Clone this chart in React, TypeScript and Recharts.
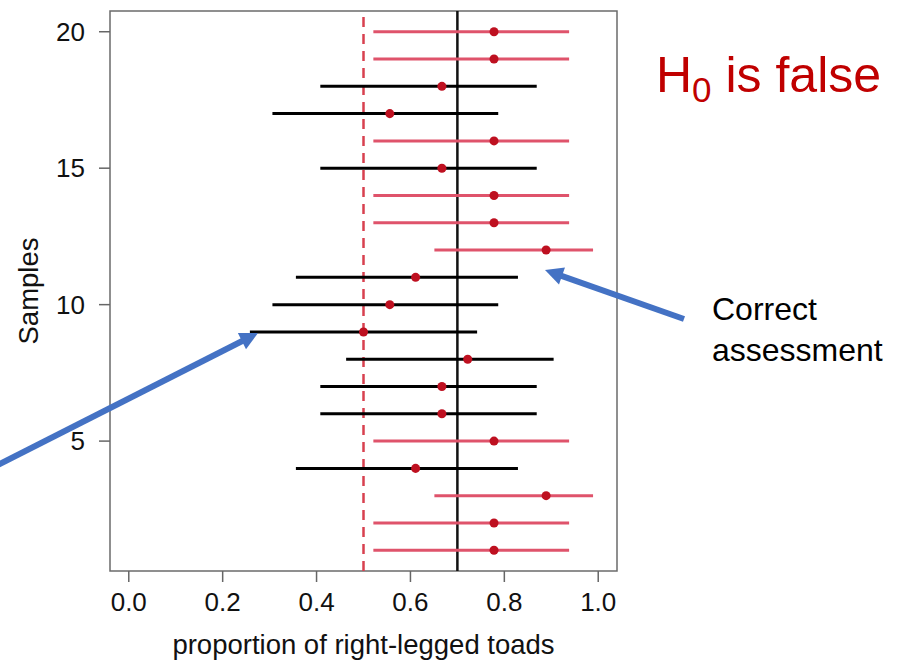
import {
  ScatterChart,
  Scatter,
  XAxis,
  YAxis,
  ZAxis,
  ErrorBar,
  ReferenceLine,
  ReferenceArea,
} from "recharts";

const FONT = '"Liberation Sans", Arial, Helvetica, sans-serif';

// one interval per sample
const SAMPLES = [1, 2, 3, 4, 5, 6, 7, 8, 9, 10, 11, 12, 13, 14, 15, 16, 17, 18, 19, 20];
const ESTIMATE = [
  0.778, 0.778, 0.889, 0.611, 0.778, 0.667, 0.667, 0.722, 0.5, 0.556,
  0.611, 0.889, 0.778, 0.778, 0.667, 0.778, 0.556, 0.667, 0.778, 0.778,
];
const LOWER = [
  0.521, 0.521, 0.651, 0.356, 0.521, 0.408, 0.408, 0.463, 0.258, 0.306,
  0.356, 0.651, 0.521, 0.521, 0.408, 0.521, 0.306, 0.408, 0.521, 0.521,
];
const UPPER = [
  0.938, 0.938, 0.989, 0.829, 0.938, 0.869, 0.869, 0.905, 0.742, 0.787,
  0.829, 0.989, 0.938, 0.938, 0.869, 0.938, 0.787, 0.869, 0.938, 0.938,
];
const NULL_VALUE = 0.5;
const TRUE_VALUE = 0.7;

const X_TICKS = [0, 0.2, 0.4, 0.6, 0.8, 1.0];
const Y_TICKS = [5, 10, 15, 20];
const X_DOMAIN = [-0.04, 1.04];
const Y_DOMAIN = [0.24, 20.76];

const RED_LINE = "#DF536B";
const DASH_RED = "#D8404F";
const POINT = "#BE1020";
const BLUE = "#4472C4";

const rows = SAMPLES.map((s, i) => ({
  sample: s,
  est: ESTIMATE[i],
  err: [ESTIMATE[i] - LOWER[i], UPPER[i] - ESTIMATE[i]],
  rejects: LOWER[i] > NULL_VALUE,
}));
const correct = rows.filter((r) => r.rejects);
const missed = rows.filter((r) => !r.rejects);

// arrow shaft stops short of the tip so the head stays sharp
function Arrow({ x1, y1, x2, y2 }: { x1: number; y1: number; x2: number; y2: number }) {
  const len = Math.hypot(x2 - x1, y2 - y1);
  const ux = (x2 - x1) / len;
  const uy = (y2 - y1) / len;
  const head = 18;
  const half = 9;
  const bx = x2 - ux * head;
  const by = y2 - uy * head;
  const pts = `${x2},${y2} ${bx - uy * half},${by + ux * half} ${bx + uy * half},${by - ux * half}`;
  return (
    <g>
      <line x1={x1} y1={y1} x2={bx + ux * 2} y2={by + uy * 2} stroke={BLUE} strokeWidth={6} />
      <polygon points={pts} fill={BLUE} />
    </g>
  );
}

export default function App() {
  return (
    <div style={{ position: "absolute", left: 0, top: 0, width: 898, height: 663, background: "#fff", fontFamily: FONT }}>
      <ScatterChart
        width={898}
        height={663}
        margin={{ top: 11, right: 281, bottom: 2, left: 0 }}
        style={{ fontFamily: FONT }}
      >
        <XAxis
          type="number"
          dataKey="est"
          domain={X_DOMAIN}
          ticks={X_TICKS}
          allowDataOverflow
          tickFormatter={(v: number) => v.toFixed(1)}
          axisLine={false}
          tickLine={{ stroke: "#666", strokeWidth: 1.5 }}
          tickSize={11}
          tickMargin={11}
          height={90}
          tick={{ fill: "#111", fontSize: 26 }}
          label={{
            value: "proportion of right-legged toads",
            position: "insideBottom",
            offset: 7,
            fill: "#111",
            fontSize: 27.5,
          }}
        />
        <YAxis
          type="number"
          dataKey="sample"
          domain={Y_DOMAIN}
          ticks={Y_TICKS}
          allowDataOverflow
          axisLine={false}
          tickLine={{ stroke: "#666", strokeWidth: 1.5 }}
          tickSize={11}
          tickMargin={14}
          width={110}
          tick={{ fill: "#111", fontSize: 26 }}
          label={{
            value: "Samples",
            angle: -90,
            position: "insideLeft",
            offset: 28,
            fill: "#111",
            fontSize: 27.5,
            style: { textAnchor: "middle" },
          }}
        />
        <ZAxis range={[85, 85]} />
        <ReferenceArea
          x1={X_DOMAIN[0]}
          x2={X_DOMAIN[1]}
          y1={Y_DOMAIN[0]}
          y2={Y_DOMAIN[1]}
          fill="none"
          fillOpacity={0}
          stroke="#6b6b6b"
          strokeWidth={1.5}
          ifOverflow="visible"
        />
        <ReferenceLine x={TRUE_VALUE} stroke="#111" strokeWidth={2.5} />
        <ReferenceLine x={NULL_VALUE} stroke={DASH_RED} strokeWidth={2.5} strokeDasharray="10 7" />
        <Scatter data={missed} fill={POINT} isAnimationActive={false}>
          <ErrorBar dataKey="err" direction="x" width={0} stroke="#000" strokeWidth={3} isAnimationActive={false} />
        </Scatter>
        <Scatter data={correct} fill={POINT} isAnimationActive={false}>
          <ErrorBar dataKey="err" direction="x" width={0} stroke={RED_LINE} strokeWidth={3} isAnimationActive={false} />
        </Scatter>
      </ScatterChart>
      <svg
        width={898}
        height={663}
        style={{ position: "absolute", left: 0, top: 0, pointerEvents: "none", fontFamily: FONT }}
      >
        <text x={656} y={92} fill="#C00000" fontSize={50}>
          H
          <tspan fontSize={35} dy={10}>0</tspan>
          <tspan dy={-10}> is false</tspan>
        </text>
        <text x={712} y={320} fill="#000" fontSize={32}>Correct</text>
        <text x={712} y={361} fill="#000" fontSize={32}>assessment</text>
        <Arrow x1={684} y1={319} x2={545} y2={270} />
        <Arrow x1={-4} y1={466} x2={258} y2={333} />
      </svg>
    </div>
  );
}
